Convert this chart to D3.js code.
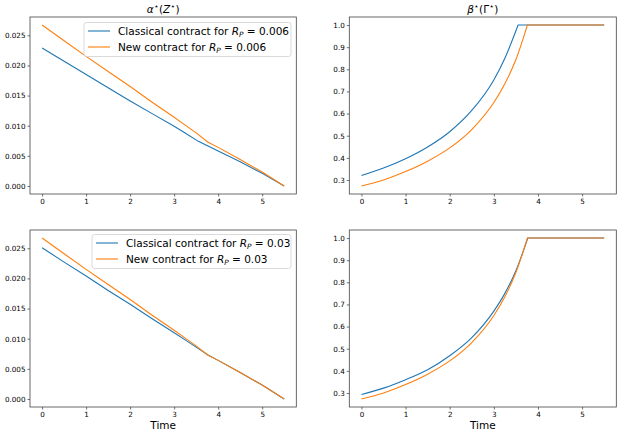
<!DOCTYPE html>
<html>
<head>
<meta charset="utf-8">
<script src="https://cdn.jsdelivr.net/npm/d3@7"></script>
<style>
  body { margin: 0; background: #fff; }
  svg text { font-family: "DejaVu Sans", sans-serif; fill: #000; }
</style>
</head>
<body>
<div id="chart"></div>
<script>
// time grid (kinks where beta hits 1)
var timeClassic006 = [0, 0.5, 1, 1.5, 2, 2.5, 3, 3.25, 3.55, 4, 4.5, 5, 5.5];
var timeNew = [0, 0.5, 1, 1.5, 2, 2.5, 3, 3.25, 3.5, 3.76, 4, 4.5, 5, 5.5];
var timeClassic03 = [0, 0.5, 1, 1.5, 2, 2.5, 3, 3.25, 3.5, 3.77, 4, 4.5, 5, 5.5];

// alpha*(Z*)
var alphaClassic006 = [0.0229, 0.0207, 0.0185, 0.0163, 0.0141, 0.0120, 0.0099, 0.0088, 0.0074, 0.0058, 0.0040, 0.0021, 0];
var alphaNew = [0.0267, 0.0241, 0.0215, 0.0190, 0.0165, 0.0139, 0.0114, 0.0101, 0.0088, 0.0073, 0.0064, 0.0044, 0.0023, 0];
var alphaClassic03 = [0.0251, 0.0227, 0.0204, 0.0180, 0.0157, 0.0133, 0.0110, 0.0098, 0.0086, 0.0073, 0.0064, 0.0044, 0.0023, 0];

// beta*(Gamma*)
var betaClassic006 = [0.320, 0.354, 0.396, 0.449, 0.518, 0.614, 0.752, 0.850, 1.0, 1.0, 1.0, 1.0, 1.0];
var betaNew = [0.273, 0.300, 0.338, 0.385, 0.445, 0.528, 0.650, 0.735, 0.844, 1.0, 1.0, 1.0, 1.0, 1.0];
var betaClassic03 = [0.293, 0.322, 0.360, 0.405, 0.468, 0.550, 0.670, 0.750, 0.852, 1.0, 1.0, 1.0, 1.0, 1.0];

var xTicks = [0, 1, 2, 3, 4, 5];
var alphaTicks = [0, 0.005, 0.010, 0.015, 0.020, 0.025];
var betaTicks = [0.3, 0.4, 0.5, 0.6, 0.7, 0.8, 0.9, 1.0];

var blue = "#1f77b4", orange = "#ff7f0e";

var width = 624, height = 436;
var svg = d3.select("#chart").append("svg")
    .attr("width", width)
    .attr("height", height);

function zip(ts, vs) {
    return ts.map(function (t, i) { return [t, vs[i]]; });
}

// matplotlib style 5% margins
function padded(vals) {
    var e = d3.extent(vals), r = e[1] - e[0];
    return [e[0] - 0.05 * r, e[1] + 0.05 * r];
}

// write mathtext-ish pieces into a text element
function richText(sel, parts, size) {
    parts.forEach(function (p) {
        var ts = sel.append("tspan").text(p.t);
        if (p.i) ts.attr("font-style", "italic");
        if (p.sub) ts.attr("font-size", size * 0.7).attr("dy", size * 0.22);
        if (p.sup) ts.attr("font-size", size * 0.8).attr("dy", -size * 0.38);
        if (p.back) ts.attr("dy", p.back * size);
    });
}

function panel(opt) {
    var x = d3.scaleLinear().domain([-0.275, 5.775]).range([opt.x0, opt.x1]);
    var all = [];
    opt.series.forEach(function (s) { all = all.concat(s.v); });
    var y = d3.scaleLinear().domain(padded(all)).range([opt.y1, opt.y0]);

    var g = svg.append("g");

    var straight = d3.line()
        .x(function (d) { return x(d[0]); })
        .y(function (d) { return y(d[1]); });
    var smooth = d3.line()
        .x(function (d) { return x(d[0]); })
        .y(function (d) { return y(d[1]); })
        .curve(d3.curveMonotoneX);

    opt.series.forEach(function (s) {
        var pts = zip(s.t, s.v);
        var d;
        if (opt.smooth) {
            // curved rise up to the cap, then flat at 1
            var k = s.v.indexOf(1.0);
            d = smooth(pts.slice(0, k + 1)) + straight(pts.slice(k)).replace(/^M/, "L");
        } else {
            d = straight(pts);
        }
        g.append("path")
            .attr("fill", "none")
            .attr("stroke", s.c)
            .attr("stroke-width", 1.1)
            .attr("d", d);
    });

    var xa = g.append("g")
        .attr("transform", "translate(0," + opt.y1 + ")")
        .call(d3.axisBottom(x).tickValues(xTicks).tickFormat(d3.format("d")).tickSize(2.5).tickPadding(2));
    var ya = g.append("g")
        .attr("transform", "translate(" + opt.x0 + ",0)")
        .call(d3.axisLeft(y).tickValues(opt.ticks).tickFormat(d3.format(opt.fmt)).tickSize(2.5).tickPadding(2));
    [xa, ya].forEach(function (a) {
        a.select(".domain").remove();
        a.selectAll("line").attr("stroke", "#333").attr("stroke-width", 0.7);
        a.selectAll("text").attr("font-size", 7.2).attr("font-family", "DejaVu Sans").attr("fill", "#222");
    });

    g.append("rect")
        .attr("x", opt.x0).attr("y", opt.y0)
        .attr("width", opt.x1 - opt.x0).attr("height", opt.y1 - opt.y0)
        .attr("fill", "none").attr("stroke", "#444").attr("stroke-width", 0.8);

    if (opt.title) {
        var tt = g.append("text")
            .attr("x", (opt.x0 + opt.x1) / 2).attr("y", opt.y0 - 4.5)
            .attr("text-anchor", "middle").attr("font-size", 10.5);
        richText(tt, opt.title, 10.5);
    }
    if (opt.xlabel) {
        g.append("text")
            .attr("x", (opt.x0 + opt.x1) / 2).attr("y", opt.y1 + 22)
            .attr("text-anchor", "middle").attr("font-size", 10.5)
            .text(opt.xlabel);
    }

    if (opt.legend) {
        var L = opt.legend;
        var lg = g.append("g");
        lg.append("rect")
            .attr("x", L.x).attr("y", L.y).attr("width", L.w).attr("height", 34)
            .attr("rx", 2.5)
            .attr("fill", "#fff").attr("fill-opacity", 0.8)
            .attr("stroke", "#d0d0d0").attr("stroke-width", 0.8);
        L.items.forEach(function (it, i) {
            var cy = L.y + 8.5 + i * 16;
            lg.append("line")
                .attr("x1", L.x + 4).attr("x2", L.x + 26)
                .attr("y1", cy).attr("y2", cy)
                .attr("stroke", it.c).attr("stroke-width", 1.1);
            var tx = lg.append("text")
                .attr("x", L.x + 34).attr("y", cy + 3.8)
                .attr("font-size", 10.5);
            richText(tx, [
                {t: it.label + " for "},
                {t: "R", i: true},
                {t: "P", i: true, sub: true},
                {t: " = " + it.rp, back: -0.22}
            ], 10.5);
        });
    }
}

var star = "\u22C6";

panel({
    x0: 30, x1: 296.3, y0: 17, y1: 194,
    ticks: alphaTicks, fmt: ".3f",
    series: [{t: timeClassic006, v: alphaClassic006, c: blue}, {t: timeNew, v: alphaNew, c: orange}],
    title: [{t: "\u03B1", i: true}, {t: star, sup: true}, {t: "(", back: 0.38}, {t: "Z", i: true}, {t: star, sup: true}, {t: ")", back: 0.38}],
    legend: {x: 84, y: 22.5, w: 207, items: [
        {label: "Classical contract", rp: "0.006", c: blue},
        {label: "New contract", rp: "0.006", c: orange}]}
});

panel({
    x0: 349.3, x1: 616.3, y0: 17, y1: 194,
    ticks: betaTicks, fmt: ".1f", smooth: true,
    series: [{t: timeClassic006, v: betaClassic006, c: blue}, {t: timeNew, v: betaNew, c: orange}],
    title: [{t: "\u03B2", i: true}, {t: star, sup: true}, {t: "(", back: 0.38}, {t: "\u0393"}, {t: star, sup: true}, {t: ")", back: 0.38}]
});

panel({
    x0: 30, x1: 296.3, y0: 230, y1: 407,
    ticks: alphaTicks, fmt: ".3f",
    series: [{t: timeClassic03, v: alphaClassic03, c: blue}, {t: timeNew, v: alphaNew, c: orange}],
    xlabel: "Time",
    legend: {x: 92, y: 234.5, w: 199, items: [
        {label: "Classical contract", rp: "0.03", c: blue},
        {label: "New contract", rp: "0.03", c: orange}]}
});

panel({
    x0: 349.3, x1: 616.3, y0: 230, y1: 407,
    ticks: betaTicks, fmt: ".1f", smooth: true,
    series: [{t: timeClassic03, v: betaClassic03, c: blue}, {t: timeNew, v: betaNew, c: orange}],
    xlabel: "Time"
});
</script>
</body>
</html>
